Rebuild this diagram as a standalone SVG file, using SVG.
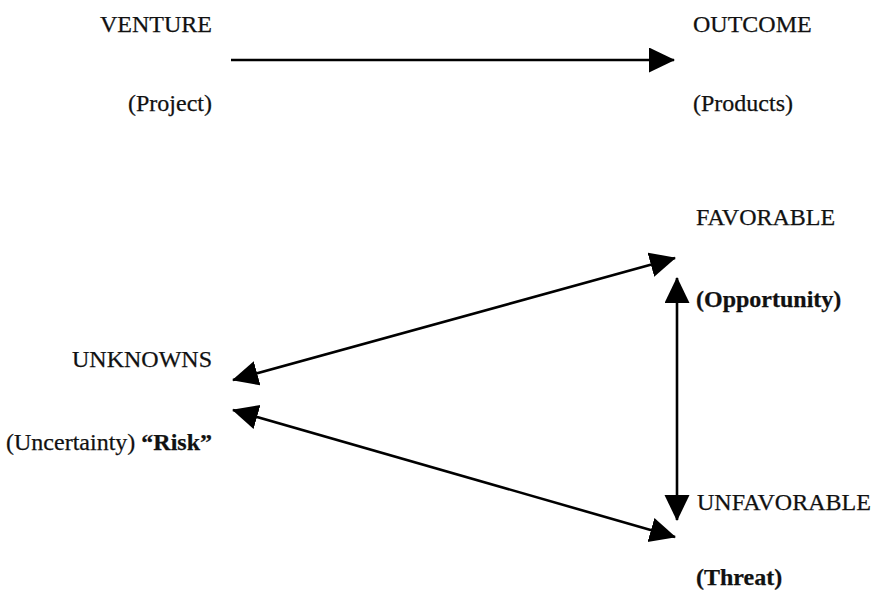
<svg xmlns="http://www.w3.org/2000/svg" width="874" height="597" viewBox="0 0 874 597">
<style>
text { font-family: "Liberation Serif", "Times New Roman", serif; font-size: 24px; fill: #111; stroke: #111; stroke-width: 0.25; }
.b { font-weight: bold; }
.r { text-anchor: end; }
.conn line { stroke: #000; stroke-width: 2.6; fill: none; }
</style>
<defs>
<marker id="ah" markerUnits="userSpaceOnUse" markerWidth="27" markerHeight="26" refX="25" refY="12.5" orient="auto-start-reverse" viewBox="0 0 27 26">
<path d="M0,0 L26,12.5 L0,25 Z" fill="#000"/>
</marker>
</defs>
<rect width="874" height="597" fill="#fff"/>
<g class="conn" id="connectors">
<line x1="231" y1="60" x2="674" y2="60" marker-end="url(#ah)"/>
<line x1="233" y1="380" x2="675" y2="258" marker-start="url(#ah)" marker-end="url(#ah)"/>
<line x1="233" y1="410" x2="675" y2="537" marker-start="url(#ah)" marker-end="url(#ah)"/>
<line x1="677" y1="278" x2="677" y2="520" marker-start="url(#ah)" marker-end="url(#ah)"/>
</g>
<g id="venture">
<text class="r" x="212" y="32">VENTURE</text>
<text class="r" x="212" y="111">(Project)</text>
</g>
<g id="outcome">
<text x="693" y="32">OUTCOME</text>
<text x="693" y="111">(Products)</text>
</g>
<g id="favorable">
<text x="696" y="225">FAVORABLE</text>
<text class="b" x="696" y="307">(Opportunity)</text>
</g>
<g id="unknowns">
<text class="r" x="212" y="367">UNKNOWNS</text>
<text class="r" x="212" y="450">(Uncertainty) <tspan class="b">“Risk”</tspan></text>
</g>
<g id="unfavorable">
<text x="697" y="510">UNFAVORABLE</text>
<text class="b" x="696" y="585">(Threat)</text>
</g>
</svg>
